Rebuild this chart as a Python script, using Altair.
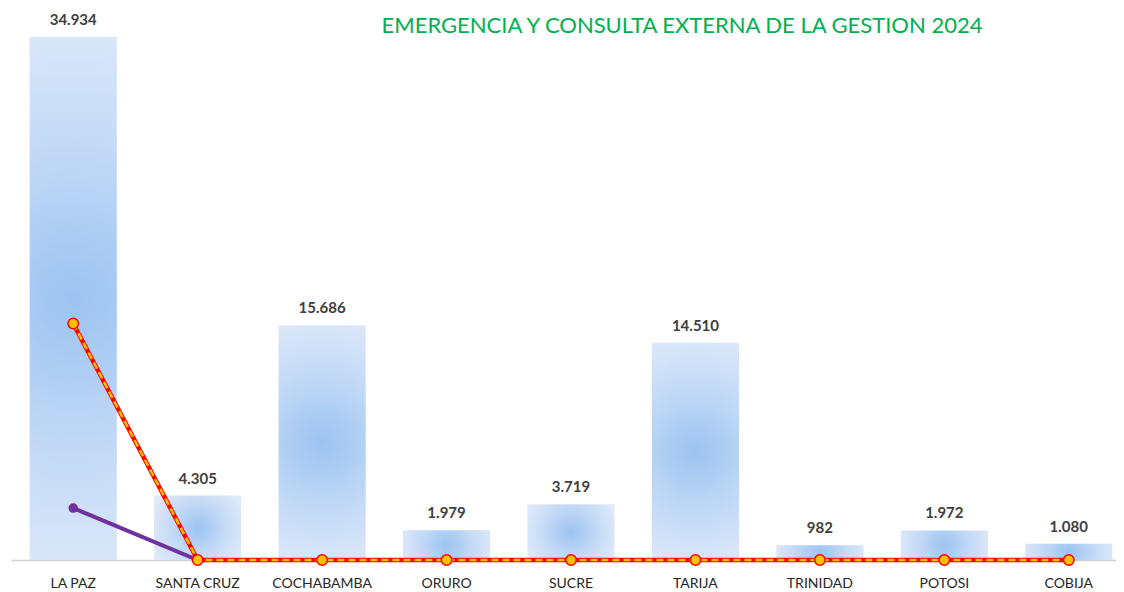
import altair as alt
import pandas as pd

categories = ["LA PAZ", "SANTA CRUZ", "COCHABAMBA", "ORURO", "SUCRE", "TARIJA", "TRINIDAD", "POTOSI", "COBIJA"]
bar_values = [34934, 4305, 15686, 1979, 3719, 14510, 982, 1972, 1080]
red_line_values = [15800, 0, 0, 0, 0, 0, 0, 0, 0]
purple_line_values = [3470, 0, 0, 0, 0, 0, 0, 0, 0]
title_text = "EMERGENCIA Y CONSULTA EXTERNA DE LA GESTION 2024"

df = pd.DataFrame({
    "cat": categories,
    "val": bar_values,
    "label": [f"{v:,}".replace(",", ".") for v in bar_values],
    "red": red_line_values,
    "purple": purple_line_values,
})

FONT = "Lato"
x = alt.X("cat:N", sort=categories,
          scale=alt.Scale(range=[3, 1123], paddingInner=0.3, paddingOuter=0.15),
          axis=alt.Axis(title=None, labelAngle=0, tickSize=0, labelPadding=16,
                        labelFont=FONT, labelFontSize=14, labelColor="#262626",
                        domainColor="#d0d0d0", domainWidth=1.5, grid=False))
yscale = alt.Scale(domain=[0, 36871], nice=False, zero=True)
y_bar = alt.Y("val:Q", scale=yscale, axis=None)

grad = alt.Gradient(
    gradient="radial",
    stops=[alt.GradientStop(color="#9CC3F1", offset=0),
           alt.GradientStop(color="#C4DAF6", offset=0.55),
           alt.GradientStop(color="#DEE9F9", offset=1)],
    x1=0.5, y1=0.5, r1=0, x2=0.5, y2=0.5, r2=0.55,
)

bars = alt.Chart(df).mark_bar(color=grad).encode(x=x, y=y_bar)

labels = alt.Chart(df).mark_text(baseline="bottom", dy=-9, font=FONT, fontSize=15,
                                 fontWeight="bold", color="#404040").encode(
    x=alt.X("cat:N", sort=categories), y=alt.Y("val:Q", scale=yscale), text="label:N")

purple_line = alt.Chart(df).mark_line(color="#7030A0", strokeWidth=4).encode(
    x=alt.X("cat:N", sort=categories), y=alt.Y("purple:Q", scale=yscale))
purple_pt = alt.Chart(df.iloc[:1]).mark_point(shape="circle", filled=True, size=90,
                                              color="#7030A0", opacity=1).encode(
    x=alt.X("cat:N", sort=categories), y=alt.Y("purple:Q", scale=yscale))

red_line = alt.Chart(df).mark_line(color="#FF0000", strokeWidth=4.5).encode(
    x=alt.X("cat:N", sort=categories), y=alt.Y("red:Q", scale=yscale))
yellow_dash = alt.Chart(df).mark_line(color="#FFC000", strokeWidth=2.5, strokeDash=[7, 4]).encode(
    x=alt.X("cat:N", sort=categories), y=alt.Y("red:Q", scale=yscale))
red_pts = alt.Chart(df).mark_point(shape="circle", filled=True, size=110, fill="#FFC000",
                                   stroke="#FF0000", strokeWidth=1.5, opacity=1).encode(
    x=alt.X("cat:N", sort=categories), y=alt.Y("red:Q", scale=yscale))

title = alt.Chart(pd.DataFrame({"t": [title_text]})).mark_text(
    font=FONT, fontSize=22, color="#00B050", align="center", baseline="middle").encode(
    x=alt.value(674), y=alt.value(18), text="t:N")

chart = alt.layer(bars, labels, purple_line, purple_pt, red_line, yellow_dash, red_pts, title).properties(
    width=1108, height=552,
    autosize=alt.AutoSizeParams(type="none"),
    padding={"left": 0, "top": 0, "right": 0, "bottom": 32},
).configure_view(stroke=None)

chart.save("out.html", embed_options={"renderer": "svg", "actions": False})
